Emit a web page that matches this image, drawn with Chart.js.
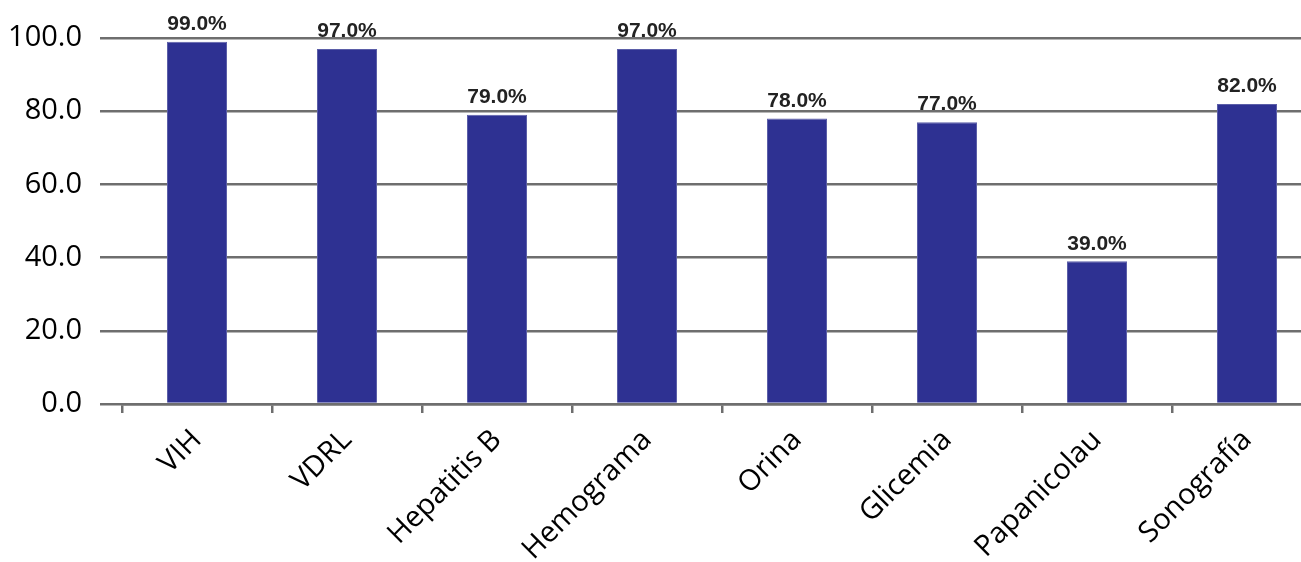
<!DOCTYPE html>
<html>
<head>
<meta charset="utf-8">
<script src="https://cdn.jsdelivr.net/npm/chart.js@4.4.1/dist/chart.umd.min.js"></script>
<style>
  html, body { margin: 0; padding: 0; background: #fff; overflow: hidden; }
  #wrap { width: 1322px; height: 562px; position: relative; }
</style>
</head>
<body>
<div id="wrap"><canvas id="examenesChart"></canvas></div>
<script>
// Examenes realizados (%)
const categorias = ["VIH", "VDRL", "Hepatitis B", "Hemograma", "Orina", "Glicemia", "Papanicolau", "Sonografía"];
const porcentajes = [99.0, 97.0, 79.0, 97.0, 78.0, 77.0, 39.0, 82.0];
const ticksY = [0, 20, 40, 60, 80, 100];

const gris = "#6e6e6e";

// value labels on top of each bar
const etiquetasBarras = {
    id: "etiquetasBarras",
    afterDatasetsDraw(chart) {
        const ctx = chart.ctx;
        const meta = chart.getDatasetMeta(0);
        ctx.save();
        ctx.font = "bold 21px 'Liberation Sans', Arial, sans-serif";
        ctx.fillStyle = "#222222";
        ctx.textAlign = "center";
        ctx.textBaseline = "bottom";
        meta.data.forEach((bar, i) => {
            ctx.fillText(porcentajes[i].toFixed(1) + "%", bar.x, bar.y - 7);
        });
        ctx.restore();
    }
};

const ctx = document.getElementById("examenesChart").getContext("2d");

new Chart(ctx, {
    type: "bar",
    data: {
        labels: categorias,
        datasets: [{
            data: porcentajes,
            backgroundColor: "#2E3192",
            borderColor: "#5b5ea8",
            borderWidth: 1,
            barPercentage: 0.4,
            categoryPercentage: 1.0
        }]
    },
    options: {
        responsive: true,
        maintainAspectRatio: false,
        animation: false,
        layout: { padding: { top: 38, right: 0, bottom: 0, left: 0 } },
        plugins: {
            legend: { display: false },
            tooltip: { enabled: false }
        },
        scales: {
            x: {
                afterFit: (scale) => { scale.height = 158; },
                grid: {
                    offset: true,
                    drawOnChartArea: false,
                    color: gris,
                    lineWidth: 2.5,
                    tickLength: 9
                },
                border: { display: true, color: gris, width: 2.5 },
                ticks: {
                    minRotation: 45,
                    maxRotation: 45,
                    color: "#000",
                    padding: 10,
                    font: { family: "'Open Sans', sans-serif", size: 29 }
                }
            },
            y: {
                min: 0,
                max: 100,
                afterFit: (scale) => { scale.width = 122; },
                afterBuildTicks: (scale) => {
                    scale.ticks = ticksY.map((v) => ({ value: v }));
                },
                grid: {
                    color: gris,
                    lineWidth: 2.5,
                    tickLength: 22
                },
                border: { display: false },
                ticks: {
                    color: "#000",
                    padding: 18,
                    font: { family: "'Open Sans', sans-serif", size: 29 },
                    callback: (v) => Number(v).toFixed(1)
                }
            }
        }
    },
    plugins: [etiquetasBarras]
});
</script>
</body>
</html>
